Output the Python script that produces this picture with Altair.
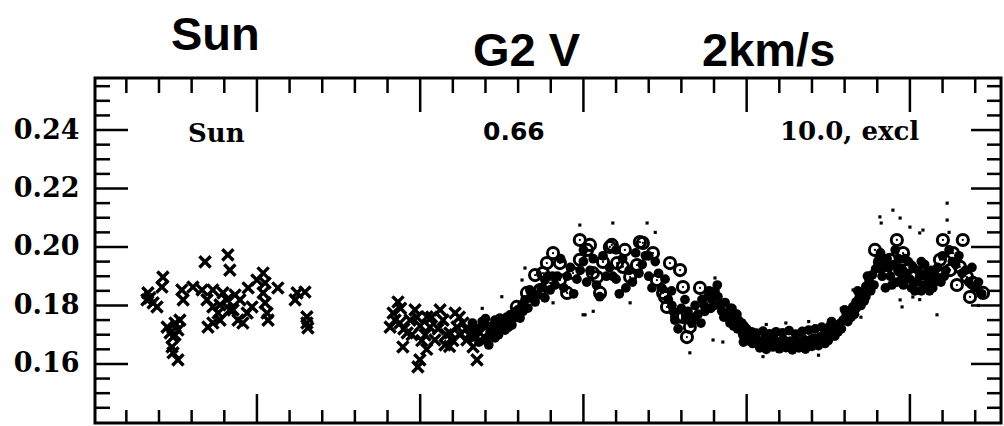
import altair as alt
import pandas as pd

# ---------------- data ----------------
cross_points = [
    (1966.63, 0.1819), (1966.82, 0.1809), (1966.94, 0.1795), (1966.66, 0.1843), (1967.12, 0.1897),
    (1967.09, 0.1863), (1967.25, 0.1726), (1967.34, 0.1706), (1967.43, 0.1692), (1967.40, 0.1658),
    (1967.43, 0.1638), (1967.58, 0.1614), (1967.49, 0.1740), (1967.58, 0.1716), (1967.64, 0.1750),
    (1967.70, 0.1853), (1967.74, 0.1819), (1968.04, 0.1863), (1968.41, 0.1949), (1968.32, 0.1853),
    (1968.47, 0.1819), (1968.50, 0.1726), (1968.65, 0.1740), (1969.11, 0.1973), (1969.17, 0.1921),
    (1968.65, 0.1795), (1968.81, 0.1774), (1968.96, 0.1843), (1969.08, 0.1819), (1969.17, 0.1785),
    (1968.87, 0.1750), (1969.27, 0.1785), (1969.42, 0.1750), (1969.57, 0.1740), (1969.70, 0.1774),
    (1969.48, 0.1819), (1969.85, 0.1795), (1969.73, 0.1860), (1970.00, 0.1887), (1970.19, 0.1911),
    (1970.25, 0.1877), (1970.19, 0.1843), (1970.25, 0.1809), (1970.31, 0.1774), (1970.34, 0.1750),
    (1970.64, 0.1860), (1971.17, 0.1819), (1971.23, 0.1843), (1971.47, 0.1846), (1971.53, 0.1761),
    (1971.53, 0.1740), (1971.56, 0.1723), (1968.87, 0.1802), (1969.33, 0.1836), (1968.65, 0.1853),
    (1966.72, 0.1826), (1967.49, 0.1699),
    (1974.32, 0.1812), (1974.17, 0.1774), (1974.08, 0.1726), (1974.38, 0.1740), (1974.60, 0.1706),
    (1974.47, 0.1658), (1974.99, 0.1614), (1974.93, 0.1590), (1975.21, 0.1761), (1975.30, 0.1726),
    (1975.61, 0.1785), (1975.70, 0.1750), (1975.91, 0.1706), (1976.13, 0.1726), (1976.31, 0.1740),
    (1976.43, 0.1682), (1976.62, 0.1658), (1976.74, 0.1614), (1976.83, 0.1706), (1974.69, 0.1750),
    (1974.84, 0.1785), (1975.45, 0.1682), (1975.76, 0.1665), (1976.07, 0.1774), (1974.23, 0.1750),
    (1975.15, 0.1699), (1976.22, 0.1699),
    (1974.50, 0.1720), (1974.75, 0.1700), (1975.00, 0.1730), (1975.05, 0.1680), (1975.35, 0.1760),
    (1975.55, 0.1720), (1975.80, 0.1700), (1976.00, 0.1680), (1976.20, 0.1760), (1976.40, 0.1720),
    (1975.20, 0.1650), (1975.90, 0.1660), (1976.50, 0.1700), (1974.90, 0.1760), (1974.40, 0.1790),
]

circle_points = [
    (1977.96, 0.1795), (1978.27, 0.1843), (1978.67, 0.1853), (1978.76, 0.1911), (1979.07, 0.1979),
    (1979.28, 0.1945), (1979.50, 0.1843), (1979.68, 0.1911), (1979.89, 0.2024), (1979.89, 0.1956),
    (1980.11, 0.1990), (1980.29, 0.1911), (1980.51, 0.1843), (1980.42, 0.1897), (1980.81, 0.2000),
    (1981.03, 0.1945), (1981.21, 0.1932), (1981.43, 0.1897), (1981.82, 0.2014), (1982.13, 0.1979),
    (1982.25, 0.1887), (1982.44, 0.1843), (1982.56, 0.1795), (1982.65, 0.1945), (1982.87, 0.1761),
    (1980.20, 0.2007), (1980.87, 0.2007), (1981.73, 0.2017), (1982.96, 0.1921), (1983.57, 0.1860),
    (1983.05, 0.1761), (1983.26, 0.1726), (1983.17, 0.1692), (1982.50, 0.1829), (1983.05, 0.1863),
    (1978.52, 0.1904), (1979.28, 0.1887), (1980.60, 0.1949), (1981.27, 0.1990), (1981.64, 0.1938),
    (1978.88, 0.1945), (1978.98, 0.1877),
    (1989.60, 0.2024), (1989.79, 0.1979), (1989.39, 0.1956), (1990.00, 0.1932), (1990.40, 0.1911),
    (1990.61, 0.1897), (1991.01, 0.2024), (1991.62, 0.2024), (1991.32, 0.1979), (1991.53, 0.1932),
    (1991.75, 0.1897), (1991.93, 0.1877), (1992.24, 0.1843), (1991.84, 0.1829), (1989.08, 0.1949),
    (1988.93, 0.1990), (1989.24, 0.1921), (1989.70, 0.1921), (1991.23, 0.1921), (1990.92, 0.1956),
    (1991.44, 0.1870),
]

dot_points = [
    # 1976.5 - 1979.1
    (1976.53, 0.1716), (1976.68, 0.1699), (1976.83, 0.1723), (1976.98, 0.1733), (1977.14, 0.1709),
    (1977.29, 0.1750), (1977.44, 0.1757), (1977.60, 0.1744), (1977.75, 0.1768), (1977.90, 0.1778),
    (1978.06, 0.1757), (1976.98, 0.1682), (1977.29, 0.1689), (1977.60, 0.1716), (1977.81, 0.1733),
    (1977.99, 0.1785), (1978.12, 0.1802), (1978.21, 0.1819), (1978.36, 0.1826), (1978.52, 0.1812),
    (1978.61, 0.1836), (1978.36, 0.1853), (1978.30, 0.1791), (1978.82, 0.1826), (1978.98, 0.1853),
    (1979.13, 0.1870), (1978.82, 0.1887), (1976.80, 0.1675), (1977.10, 0.1665), (1977.40, 0.1700),
    (1977.70, 0.1725), (1976.60, 0.1740), (1977.00, 0.1755),
    (1976.55, 0.1690), (1976.75, 0.1710), (1976.90, 0.1745), (1977.05, 0.1690), (1977.20, 0.1730),
    (1977.35, 0.1720), (1977.50, 0.1740), (1977.65, 0.1760), (1977.85, 0.1755), (1978.00, 0.1770),
    (1978.15, 0.1780), (1978.45, 0.1840), (1978.70, 0.1860), (1978.90, 0.1900), (1979.05, 0.1900),
    # 1979 - 1982.7
    (1979.20, 0.1900), (1979.40, 0.1860), (1979.60, 0.1930), (1979.80, 0.1890), (1980.00, 0.1950),
    (1980.20, 0.1920), (1980.40, 0.1870), (1980.60, 0.1970), (1980.80, 0.1930), (1981.00, 0.1890),
    (1981.20, 0.1960), (1981.40, 0.1920), (1981.60, 0.1980), (1981.80, 0.1940), (1982.00, 0.1900),
    (1982.20, 0.1950), (1982.40, 0.1860), (1982.60, 0.1820), (1979.70, 0.1840), (1981.10, 0.1840),
    (1980.50, 0.1830), (1981.50, 0.1880), (1982.10, 0.1860), (1980.90, 0.1900),
    (1979.30, 0.1960), (1979.50, 0.1900), (1979.90, 0.1920), (1980.10, 0.1880), (1980.30, 0.1960),
    (1980.70, 0.1900), (1981.30, 0.1860), (1981.70, 0.1910), (1981.90, 0.1970), (1982.30, 0.1910),
    (1982.50, 0.1890), (1982.70, 0.1850), (1980.00, 0.1990), (1981.00, 0.1990), (1982.00, 0.1970),
    # 1982.7 - 1984.6
    (1982.71, 0.1800), (1982.80, 0.1750), (1982.90, 0.1720), (1983.11, 0.1820), (1983.20, 0.1780),
    (1983.32, 0.1740), (1983.42, 0.1800), (1983.51, 0.1770), (1983.63, 0.1820), (1983.72, 0.1780),
    (1983.81, 0.1830), (1983.94, 0.1820), (1984.03, 0.1850), (1984.12, 0.1830), (1984.18, 0.1800),
    (1984.24, 0.1780), (1984.34, 0.1810), (1984.40, 0.1760), (1984.49, 0.1740), (1984.58, 0.1770),
    (1983.90, 0.1790), (1984.10, 0.1870), (1983.60, 0.1740),
    (1982.75, 0.1780), (1983.00, 0.1790), (1983.15, 0.1760), (1983.40, 0.1760), (1983.70, 0.1800),
    (1984.00, 0.1800), (1984.30, 0.1760), (1984.50, 0.1790), (1983.85, 0.1850),
    # 1984.6 - 1985.3
    (1984.65, 0.1750), (1984.72, 0.1720), (1984.80, 0.1730), (1984.88, 0.1700), (1984.95, 0.1710),
    (1985.03, 0.1680), (1985.10, 0.1690), (1985.18, 0.1670), (1985.25, 0.1680), (1984.70, 0.1770),
    (1984.85, 0.1740), (1985.00, 0.1720), (1985.15, 0.1710), (1984.90, 0.1675),
    (1984.60, 0.1730), (1984.75, 0.1750), (1984.92, 0.1730), (1985.05, 0.1700), (1985.20, 0.1690),
    (1984.55, 0.1790), (1984.45, 0.1770),
    # 1985.3 - 1987.4
    (1985.35, 0.1680), (1985.45, 0.1675), (1985.55, 0.1685), (1985.65, 0.1678), (1985.75, 0.1672),
    (1985.85, 0.1683), (1985.95, 0.1676), (1986.05, 0.1670), (1986.15, 0.1681), (1986.25, 0.1674),
    (1986.35, 0.1678), (1986.45, 0.1669), (1986.55, 0.1680), (1986.65, 0.1675), (1986.75, 0.1684),
    (1986.85, 0.1677), (1986.95, 0.1682), (1987.05, 0.1688), (1987.15, 0.1685), (1987.25, 0.1692),
    (1987.35, 0.1698),
    (1985.30, 0.1705), (1985.50, 0.1712), (1985.70, 0.1703), (1985.90, 0.1710), (1986.10, 0.1706),
    (1986.30, 0.1714), (1986.50, 0.1702), (1986.70, 0.1711), (1986.90, 0.1716), (1987.10, 0.1720),
    (1987.30, 0.1726),
    (1985.40, 0.1655), (1985.60, 0.1650), (1985.80, 0.1658), (1986.00, 0.1652), (1986.20, 0.1656),
    (1986.40, 0.1648), (1986.60, 0.1655), (1986.80, 0.1651), (1987.00, 0.1660), (1987.20, 0.1663),
    (1987.40, 0.1670),
    # 1987.4 - 1989
    (1987.45, 0.1705), (1987.55, 0.1712), (1987.65, 0.1720), (1987.75, 0.1728), (1987.85, 0.1738),
    (1987.95, 0.1750), (1988.05, 0.1765), (1988.15, 0.1780), (1988.25, 0.1795), (1988.35, 0.1812),
    (1988.45, 0.1828), (1988.55, 0.1846), (1988.65, 0.1865), (1988.75, 0.1884), (1988.85, 0.1905),
    (1988.95, 0.1925), (1987.60, 0.1745), (1987.80, 0.1710), (1988.00, 0.1785), (1988.10, 0.1745),
    (1988.30, 0.1770), (1988.40, 0.1850), (1988.60, 0.1815), (1988.70, 0.1900), (1988.90, 0.1870),
    (1987.50, 0.1680), (1987.70, 0.1695),
    (1987.55, 0.1730), (1987.90, 0.1720), (1988.20, 0.1760), (1988.50, 0.1800), (1988.80, 0.1850),
    (1988.35, 0.1790), (1988.65, 0.1830),
    # 1989 - 1990.8
    (1989.10, 0.1980), (1989.20, 0.1930), (1989.30, 0.1960), (1989.40, 0.1900), (1989.50, 0.1940),
    (1989.60, 0.1880), (1989.70, 0.1920), (1989.80, 0.1870), (1989.90, 0.1910), (1990.00, 0.1890),
    (1990.10, 0.1930), (1990.20, 0.1880), (1990.30, 0.1900), (1990.40, 0.1870), (1990.50, 0.1910),
    (1990.60, 0.1890), (1990.70, 0.1860), (1990.80, 0.1900), (1989.25, 0.1860), (1989.55, 0.1990),
    (1989.85, 0.1960), (1990.15, 0.1850), (1990.45, 0.1940), (1990.65, 0.1920), (1990.35, 0.1850),
    (1990.55, 0.1870), (1990.25, 0.1920), (1990.75, 0.1880), (1989.95, 0.1950), (1989.45, 0.1870),
    (1989.15, 0.1900), (1989.35, 0.1930), (1989.65, 0.1960), (1989.75, 0.1890), (1990.05, 0.1860),
    (1990.35, 0.1950), (1990.60, 0.1850), (1990.85, 0.1930), (1989.05, 0.1950), (1990.95, 0.1880),
    # 1990.9 - 1992.3
    (1991.00, 0.1970), (1991.20, 0.1990), (1991.40, 0.1940), (1991.60, 0.1910), (1991.80, 0.1880),
    (1992.00, 0.1860), (1992.20, 0.1840), (1991.10, 0.1920), (1991.50, 0.1970), (1991.90, 0.1930),
    (1991.30, 0.1950), (1991.70, 0.1920), (1992.10, 0.1880), (1991.05, 0.1900),
]

speck_points = [
    (1979.89, 0.2075), (1980.90, 0.2082), (1981.95, 0.2082), (1979.99, 0.1768), (1981.43, 0.1809),
    (1983.26, 0.1638), (1978.21, 0.1928), (1978.12, 0.1887), (1979.07, 0.1809), (1980.05, 0.1768),
    (1982.20, 0.2050), (1980.30, 0.1780), (1984.03, 0.1894), (1984.18, 0.1870), (1983.97, 0.1682),
    (1984.27, 0.1675), (1985.60, 0.1735), (1986.20, 0.1740), (1986.90, 0.1745), (1987.20, 0.1630),
    (1985.50, 0.1625), (1988.26, 0.1853), (1987.90, 0.1790), (1988.50, 0.1760), (1989.08, 0.2103),
    (1989.12, 0.2082), (1989.48, 0.2126), (1989.70, 0.2099), (1990.00, 0.2068), (1990.30, 0.2048),
    (1990.40, 0.2058), (1991.14, 0.2150), (1991.14, 0.2092), (1991.20, 0.2050), (1989.70, 0.1819),
    (1989.76, 0.1795), (1990.30, 0.1820), (1990.83, 0.1768), (1990.09, 0.1829), (1992.10, 0.1800),
    (1977.50, 0.1830), (1976.90, 0.1790),
]

y_labels = [0.16, 0.18, 0.20, 0.22, 0.24]
y_minor = [0.145, 0.15, 0.155, 0.165, 0.17, 0.175, 0.185, 0.19, 0.195, 0.205, 0.21, 0.215,
           0.225, 0.23, 0.235, 0.245, 0.25, 0.255]
x_major = [1970, 1975, 1980, 1985, 1990]
x_minor = [1966, 1967, 1968, 1969, 1971, 1972, 1973, 1974, 1976, 1977, 1978, 1979, 1981,
           1982, 1983, 1984, 1986, 1987, 1988, 1989, 1991, 1992]

title_texts = ["Sun", "G2 V", "2km/s"]
panel_texts = ["Sun", "0.66", "10.0,  excl"]

# ---------------- chart ----------------
W, H = 906, 345
xs = alt.Scale(domain=[1965.04, 1992.79], nice=False, zero=False)
ys = alt.Scale(domain=[0.1398, 0.2578], nice=False, zero=False)


def pts(pairs):
    return pd.DataFrame(pairs, columns=["year", "s"])


yaxis = alt.Axis(values=y_labels, format=".2f", ticks=False, domain=False, grid=False,
                 labelPadding=16, labelFont="DejaVu Serif", labelFontWeight="bold",
                 labelFontSize=27, labelColor="black", title=None)

enc = dict(x=alt.X("year:Q", scale=xs, axis=None), y=alt.Y("s:Q", scale=ys, axis=yaxis))

dots = alt.Chart(pts(dot_points)).mark_point(
    shape="circle", filled=True, size=95, color="black", opacity=1).encode(**enc)

specks = alt.Chart(pts(speck_points)).mark_point(
    shape="square", filled=True, size=10, color="black", opacity=1).encode(**enc)

crosses = alt.Chart(pts(cross_points)).mark_point(
    shape="M-1,-1L1,1M-1,1L1,-1", filled=False, size=125, strokeWidth=3.4,
    color="black", opacity=1).encode(**enc)

circles = alt.Chart(pts(circle_points)).mark_point(
    shape="circle", filled=False, size=125, strokeWidth=3.0, color="black", opacity=1
).encode(**enc)

circle_centres = alt.Chart(pts(circle_points)).mark_point(
    shape="circle", filled=True, size=5, color="black", opacity=1).encode(**enc)


def yticks(values, x0, x1):
    return alt.Chart(pd.DataFrame({"s": values})).mark_rule(color="black", strokeWidth=2.5).encode(
        y=alt.Y("s:Q", scale=ys, axis=yaxis), x=alt.value(x0), x2=alt.value(x1))


def xticks(values, y0, y1):
    return alt.Chart(pd.DataFrame({"year": values})).mark_rule(color="black", strokeWidth=2.5).encode(
        x=alt.X("year:Q", scale=xs, axis=None), y=alt.value(y0), y2=alt.value(y1))


tick_layers = [
    yticks(y_labels, 0, 33), yticks(y_minor, 0, 15),
    yticks(y_labels, W, W - 30), yticks(y_minor, W, W - 14),
    xticks(x_major, 0, 34), xticks(x_minor, 0, 15),
    xticks(x_major, H, H - 29), xticks(x_minor, H, H - 13),
]


def label(txt, x, y, font, size, weight):
    return alt.Chart(pd.DataFrame({"t": [txt]})).mark_text(
        align="left", baseline="alphabetic", font=font, fontSize=size,
        fontWeight=weight, color="black"
    ).encode(x=alt.value(x), y=alt.value(y), text="t:N")


text_layers = [
    label(title_texts[0], 76, -28, "Liberation Sans", 47, "bold"),
    label(title_texts[1], 378, -12, "Liberation Sans", 47, "bold"),
    label(title_texts[2], 607, -12, "Liberation Sans", 47, "bold"),
    label(panel_texts[0], 93, 64, "DejaVu Serif", 26, "bold"),
    label(panel_texts[1], 388, 62, "DejaVu Sans", 25, "bold"),
    label(panel_texts[2], 685, 62, "DejaVu Serif", 26, "bold"),
]

chart = alt.layer(
    dots, specks, crosses, circles, circle_centres, *tick_layers, *text_layers
).properties(
    width=W, height=H,
    padding={"left": 95, "top": 78, "right": 3, "bottom": 3},
    autosize=alt.AutoSizeParams(type="none"),
    background="white",
).configure_view(stroke="black", strokeWidth=3)

chart.save("out.html", embed_options={"renderer": "svg", "actions": False})
